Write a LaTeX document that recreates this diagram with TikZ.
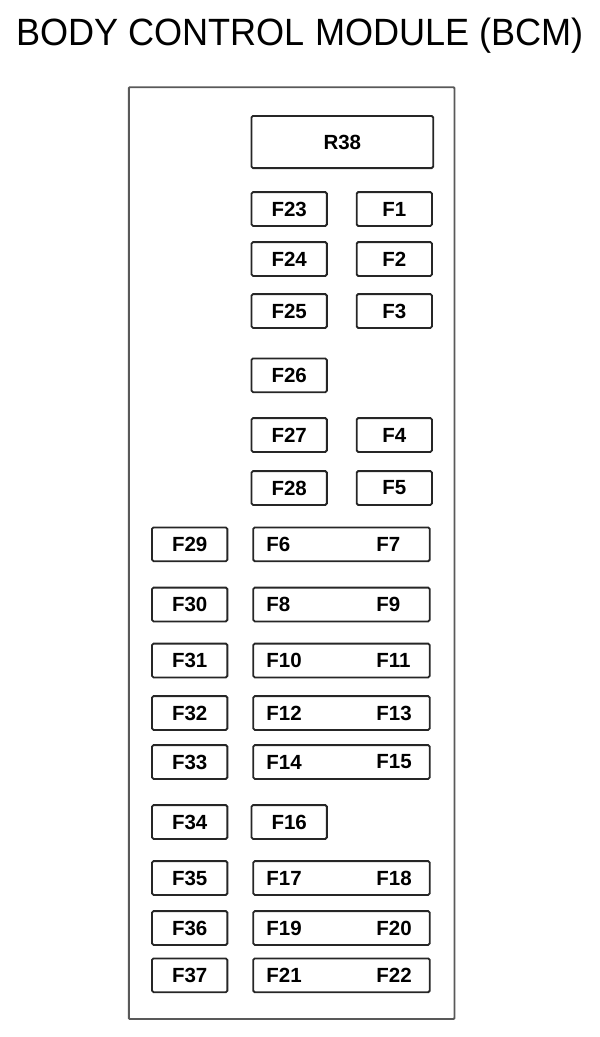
\documentclass[tikz,border=0pt]{standalone}
\usepackage{fontspec}
\setmainfont{Liberation Sans}
\newfontfamily\fusefont{Liberation Sans Bold}
\begin{document}
\begin{tikzpicture}[x=1pt,y=-1pt,
  fuse/.style={draw=black!85, line width=1.8pt, rounded corners=1.5pt,
    minimum width=75.3pt, minimum height=33.8pt, inner sep=0pt, outer sep=0pt,
    font=\fusefont\fontsize{20.5}{20.5}\selectfont},
  wide/.style={fuse, minimum width=176.6pt},
  lbl/.style={anchor=west, inner sep=0pt, font=\fusefont\fontsize{20.5}{20.5}\selectfont},
  frame/.style={draw=black!65, line width=1.9pt, rounded corners=1pt}]
\useasboundingbox (0,0) rectangle (600,1037);
% title
\node[anchor=base, inner sep=0pt, xscale=0.95, font=\fontsize{38}{38}\selectfont] (title) at (300,45) {BODY CONTROL MODULE (BCM)};
% outer frame
\draw[frame] (128.8,87.2) rectangle (454.5,1019);
% relay
\node[fuse, minimum width=181.6pt, minimum height=52.2pt] (R38) at (342.35,142) {R38};
% column B / C single fuses
\node[fuse] (F23) at (289.2,209) {F23};
\node[fuse] (F1)  at (394.3,209) {F1};
\node[fuse] (F24) at (289.2,259) {F24};
\node[fuse] (F2)  at (394.3,259) {F2};
\node[fuse] (F25) at (289.2,311) {F25};
\node[fuse] (F3)  at (394.3,311) {F3};
\node[fuse] (F26) at (289.2,375.3) {F26};
\node[fuse] (F27) at (289.2,435) {F27};
\node[fuse] (F4)  at (394.3,435) {F4};
\node[fuse] (F28) at (289.2,488) {F28};
\node[fuse] (F5)  at (394.3,488) {F5};
% column A
\node[fuse] (F29) at (189.7,544.3) {F29};
\node[fuse] (F30) at (189.7,604.5) {F30};
\node[fuse] (F31) at (189.7,660.5) {F31};
\node[fuse] (F32) at (189.7,713) {F32};
\node[fuse] (F33) at (189.7,762) {F33};
\node[fuse] (F34) at (189.7,822) {F34};
\node[fuse] (F35) at (189.7,878) {F35};
\node[fuse] (F36) at (189.7,928) {F36};
\node[fuse] (F37) at (189.7,975.3) {F37};
% single F16
\node[fuse] (F16) at (289.2,822) {F16};
% double fuses
\node[wide] (W67)   at (341.5,544.3) {};
\node[wide] (W89)   at (341.5,604.5) {};
\node[wide] (W1011) at (341.5,660.5) {};
\node[wide] (W1213) at (341.5,713) {};
\node[wide] (W1415) at (341.5,762) {};
\node[wide] (W1718) at (341.5,878) {};
\node[wide] (W1920) at (341.5,928) {};
\node[wide] (W2122) at (341.5,975.3) {};
\foreach \w/\a/\b in {W67/F6/F7, W89/F8/F9, W1011/F10/F11, W1213/F12/F13,
                      W1415/F14/F15, W1718/F17/F18, W1920/F19/F20, W2122/F21/F22}{
  \node[lbl] (l\a) at ([xshift=-75.3pt]\w.center) {\a};
  \node[lbl] (l\b) at ([xshift=34.7pt]\w.center) {\b};
}
\end{tikzpicture}
\end{document}
